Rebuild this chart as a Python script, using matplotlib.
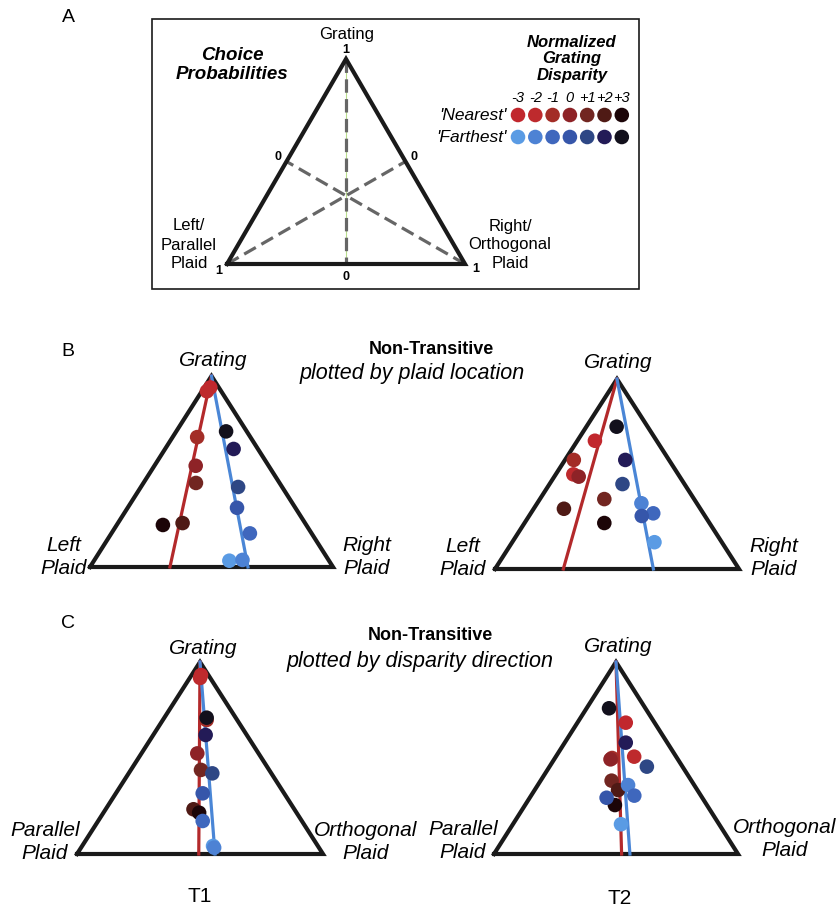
import numpy as np
import matplotlib
matplotlib.use('Agg')
import matplotlib.pyplot as plt
from matplotlib.patches import Rectangle

plt.rcParams['font.family'] = ['Liberation Sans', 'DejaVu Sans']

W, H = 840, 911

# normalized grating disparity, colour keys
disparity = ['-3', '-2', '-1', '0', '+1', '+2', '+3']
near_colors = ['#c1272d', '#be2a2d', '#a32d27', '#8e2327', '#722621', '#4f1a15', '#1c0508']
far_colors = ['#5a9be4', '#4d82d4', '#3f67bd', '#3656aa', '#2e4785', '#231b57', '#12101c']

# choice probabilities: P(grating), P(right/orthogonal plaid); P(left) = 1 - the two
# order of each list follows disparity -3 .. +3
bl_near_grating = [0.94, 0.92, 0.68, 0.53, 0.44, 0.23, 0.22]
bl_near_right = [0.025, 0.021, 0.101, 0.170, 0.216, 0.266, 0.190]
bl_far_grating = [0.033, 0.037, 0.176, 0.310, 0.419, 0.618, 0.710]
bl_far_right = [0.557, 0.609, 0.570, 0.450, 0.400, 0.282, 0.205]
bl_fit = [0.329, 0.650]   # where the near / far fit lines meet the grating = 0 side

br_near_grating = [0.675, 0.498, 0.574, 0.486, 0.368, 0.317, 0.242]
br_near_right = [0.072, 0.072, 0.036, 0.100, 0.264, 0.124, 0.327]
br_far_grating = [0.141, 0.346, 0.293, 0.279, 0.447, 0.574, 0.749]
br_far_right = [0.583, 0.427, 0.502, 0.462, 0.299, 0.247, 0.124]
br_fit = [0.280, 0.649]

cl_near_grating = [0.932, 0.917, 0.698, 0.524, 0.438, 0.233, 0.215]
cl_near_right = [0.038, 0.042, 0.178, 0.227, 0.285, 0.357, 0.389]
cl_far_grating = [0.042, 0.033, 0.172, 0.316, 0.420, 0.620, 0.710]
cl_far_right = [0.532, 0.541, 0.425, 0.353, 0.340, 0.213, 0.172]
cl_fit = [0.495, 0.561]

cr_near_grating = [0.684, 0.507, 0.500, 0.493, 0.382, 0.333, 0.255]
cr_near_right = [0.198, 0.321, 0.234, 0.231, 0.291, 0.342, 0.368]
cr_far_grating = [0.155, 0.359, 0.304, 0.293, 0.455, 0.580, 0.759]
cr_far_right = [0.443, 0.370, 0.423, 0.315, 0.399, 0.250, 0.092]
cr_fit = [0.523, 0.557]

RED_LINE = '#b3292b'
BLUE_LINE = '#4a86d6'
EDGE = '#1a1a1a'
DOT = 110


def to_xy(grating, right):
    """Ternary (grating, right) -> cartesian inside unit triangle."""
    g = np.asarray(grating, dtype=float)
    r = np.asarray(right, dtype=float)
    return r + g / 2, g


def tri_axes(fig, x0, base, w, h):
    ax = fig.add_axes([x0 / W, 1 - base / H, w / W, h / H])
    ax.set_xlim(0, 1)
    ax.set_ylim(0, 1)
    ax.axis('off')
    ax.plot([0, 0.5, 1, 0], [0, 1, 0, 0], color=EDGE, lw=3.0,
            solid_joinstyle='miter', clip_on=False, zorder=1)
    return ax


def data_panel(ax, ng, nr, fg, fr, fit):
    # fit lines from the grating corner to the opposite side
    for f, col in zip(fit, [RED_LINE, BLUE_LINE]):
        x, y = to_xy([1, 0], [0, f])
        ax.plot(x, y, color=col, lw=2.3, zorder=2, clip_on=False)
    x, y = to_xy(ng, nr)
    ax.scatter(x, y, s=DOT, c=near_colors, edgecolors='none', zorder=3, clip_on=False)
    x, y = to_xy(fg, fr)
    ax.scatter(x, y, s=DOT, c=far_colors, edgecolors='none', zorder=3, clip_on=False)


fig = plt.figure(figsize=(W / 100, H / 100), dpi=100)
bg = fig.add_axes([0, 0, 1, 1])
bg.set_xlim(0, W)
bg.set_ylim(H, 0)
bg.axis('off')

# ---------------- panel A ----------------
bg.text(68, 18, 'A', fontsize=14, ha='center', va='center')
bg.add_patch(Rectangle((152, 19), 487, 270, fill=False, ec=EDGE, lw=1.2))

ta = tri_axes(fig, 227, 264, 238, 205)
# guide lines: each corner to the middle of the opposite side
corners_g = [1, 0, 0]
corners_r = [0, 0, 1]
mids_g = [0, 0.5, 0.5]
mids_r = [0.5, 0.5, 0]
x, y = to_xy([1, 0], [0, 0.5])
ta.plot(x, y, color='#b8dc8c', lw=0.8, zorder=0.4)
for cg, cr, mg, mr in zip(corners_g, corners_r, mids_g, mids_r):
    x, y = to_xy([cg, mg], [cr, mr])
    ta.plot(x, y, color='#666666', lw=2.3, dashes=(4.2, 2.0), zorder=0.5,
            solid_capstyle='butt', dash_capstyle='butt')

bg.text(347, 35, 'Grating', fontsize=12, ha='center', va='center')
for tx, ty, s in [(346, 50, '1'), (278, 157, '0'), (414, 157, '0'),
                  (219, 271, '1'), (476, 269, '1'), (346, 277, '0')]:
    bg.text(tx, ty, s, fontsize=9, fontweight='bold', ha='center', va='center')
for line, ly in zip(['Left/', 'Parallel', 'Plaid'], [226, 245, 264]):
    bg.text(189, ly, line, fontsize=12, ha='center', va='center')
for line, ly in zip(['Right/', 'Orthogonal', 'Plaid'], [226, 245, 264]):
    bg.text(510, ly, line, fontsize=12, ha='center', va='center')
bg.text(232, 65, 'Choice\nProbabilities', fontsize=13.5, fontweight='bold',
        fontstyle='italic', ha='center', va='center', linespacing=1.1)
bg.text(572, 59, 'Normalized\nGrating\nDisparity', fontsize=12, fontweight='bold',
        fontstyle='italic', ha='center', va='center', linespacing=1.1)

# colour key
key_x = 518 + 17.3 * np.arange(len(disparity))
for kx, lab in zip(key_x, disparity):
    bg.text(kx, 98, lab, fontsize=10.5, fontstyle='italic', ha='center', va='center')
bg.scatter(key_x, [115] * len(key_x), s=DOT, c=near_colors, edgecolors='none')
bg.scatter(key_x, [137] * len(key_x), s=DOT, c=far_colors, edgecolors='none')
bg.text(507, 115, "'Nearest'", fontsize=12.5, fontstyle='italic', ha='right', va='center')
bg.text(507, 137, "'Farthest'", fontsize=12.5, fontstyle='italic', ha='right', va='center')

# ---------------- panel B ----------------
bg.text(68, 351, 'B', fontsize=14, ha='center', va='center')
bg.text(431, 350, 'Non-Transitive', fontsize=13, fontweight='bold', ha='center', va='center')
bg.text(412, 374, 'plotted by plaid location', fontsize=15.5, fontstyle='italic',
        ha='center', va='center')

ax = tri_axes(fig, 90, 567, 243, 191)
data_panel(ax, bl_near_grating, bl_near_right, bl_far_grating, bl_far_right, bl_fit)
bg.text(213, 360, 'Grating', fontsize=15, fontstyle='italic', ha='center', va='center')
bg.text(64, 557, 'Left\nPlaid', fontsize=15, fontstyle='italic', ha='center', va='center',
        linespacing=1.25)
bg.text(367, 557, 'Right\nPlaid', fontsize=15, fontstyle='italic', ha='center', va='center',
        linespacing=1.25)

ax = tri_axes(fig, 495, 569, 244, 190)
data_panel(ax, br_near_grating, br_near_right, br_far_grating, br_far_right, br_fit)
bg.text(618, 362, 'Grating', fontsize=15, fontstyle='italic', ha='center', va='center')
bg.text(463, 558, 'Left\nPlaid', fontsize=15, fontstyle='italic', ha='center', va='center',
        linespacing=1.25)
bg.text(774, 558, 'Right\nPlaid', fontsize=15, fontstyle='italic', ha='center', va='center',
        linespacing=1.25)

# ---------------- panel C ----------------
bg.text(68, 624, 'C', fontsize=14, ha='center', va='center')
bg.text(430, 636, 'Non-Transitive', fontsize=13, fontweight='bold', ha='center', va='center')
bg.text(420, 661, 'plotted by disparity direction', fontsize=15.5, fontstyle='italic',
        ha='center', va='center')

ax = tri_axes(fig, 77, 854, 246, 192)
data_panel(ax, cl_near_grating, cl_near_right, cl_far_grating, cl_far_right, cl_fit)
bg.text(203, 648, 'Grating', fontsize=15, fontstyle='italic', ha='center', va='center')
bg.text(45, 842, 'Parallel\nPlaid', fontsize=15, fontstyle='italic', ha='center', va='center',
        linespacing=1.25)
bg.text(366, 842, 'Orthogonal\nPlaid', fontsize=15, fontstyle='italic', ha='center',
        va='center', linespacing=1.25)
bg.text(200, 897, 'T1', fontsize=15, ha='center', va='center')

ax = tri_axes(fig, 494, 854, 244, 192)
data_panel(ax, cr_near_grating, cr_near_right, cr_far_grating, cr_far_right, cr_fit)
bg.text(618, 646, 'Grating', fontsize=15, fontstyle='italic', ha='center', va='center')
bg.text(463, 841, 'Parallel\nPlaid', fontsize=15, fontstyle='italic', ha='center', va='center',
        linespacing=1.25)
bg.text(785, 839, 'Orthogonal\nPlaid', fontsize=15, fontstyle='italic', ha='center',
        va='center', linespacing=1.25)
bg.text(620, 898, 'T2', fontsize=15, ha='center', va='center')

fig.savefig('out.png', dpi=100)
